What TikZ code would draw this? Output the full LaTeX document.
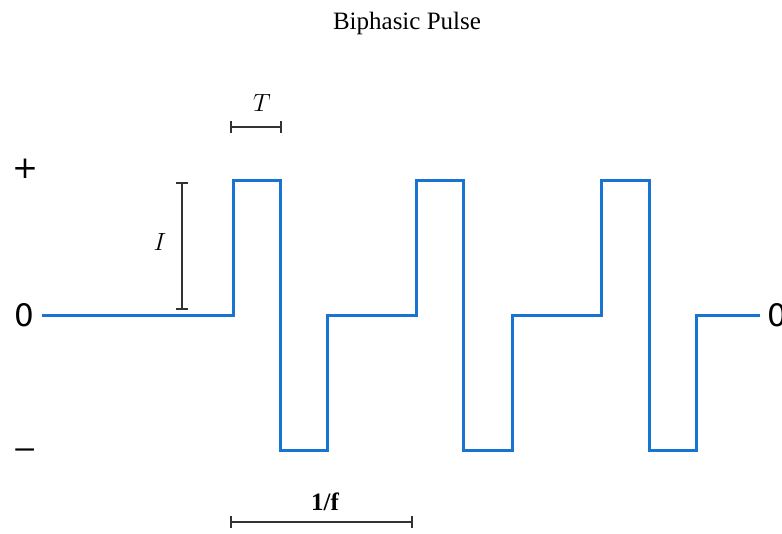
\documentclass[tikz,border=0pt]{standalone}
\usepackage{fontspec}
\setmainfont{Liberation Serif}
\newfontfamily\axisfont{DejaVu Sans}
\usetikzlibrary{arrows.meta}
\definecolor{wave}{RGB}{24,116,210}
\definecolor{dim}{RGB}{50,50,50}
\tikzset{
  wavestyle/.style={draw=wave, line width=3pt, line join=miter},
  dimline/.style={draw=dim, line width=1.8pt, {Bar[width=12pt,line width=1.8pt]}-{Bar[width=12pt,line width=1.8pt]}},
  axislabel/.style={font=\axisfont\fontsize{31}{31}\selectfont, text=black, inner sep=0pt},
  dimlabel/.style={inner sep=0pt, text=black}
}
\begin{document}
\begin{tikzpicture}[x=1pt,y=-1pt]
\useasboundingbox (0,0) rectangle (782,534);
% title
\node[anchor=base] (title) at (407,30) {\fontsize{25}{25}\selectfont Biphasic Pulse};
% waveform
\draw[wavestyle] (42,316) -- (233,316) -- (233,181) -- (280,181) -- (280,451) -- (327,451) -- (327,316)
  -- (416,316) -- (416,181) -- (463,181) -- (463,451) -- (512,451) -- (512,316)
  -- (601,316) -- (601,181) -- (649,181) -- (649,451) -- (696,451) -- (696,316) -- (760,316);
% axis labels
\node[axislabel] (plus) at (25,169) {+};
\node[axislabel] (zero) at (24,315) {0};
\node[axislabel] (minus) at (25,454) {\scalebox{1.5}[1]{–}};
\node[axislabel, anchor=west] (zeroR) at (767,315) {0};
% T bracket
\coordinate (tA) at (230,127);
\coordinate (tB) at (282,127);
\draw[dimline] (tA) -- (tB);
\node[dimlabel] (Tlab) at (262,103) {\fontsize{27}{27}\selectfont $T$};
% I bracket
\coordinate (iA) at (182,182);
\coordinate (iB) at (182,310);
\draw[dimline] (iA) -- (iB);
\node[dimlabel] (Ilab) at (160,242) {\fontsize{27}{27}\selectfont $I$};
% 1/f bracket
\coordinate (fA) at (230,522);
\coordinate (fB) at (413,522);
\draw[dimline] (fA) -- (fB);
\node[dimlabel, anchor=base] (flab) at (325,510) {\fontsize{25}{25}\selectfont\bfseries 1/f};
\end{tikzpicture}
\end{document}
